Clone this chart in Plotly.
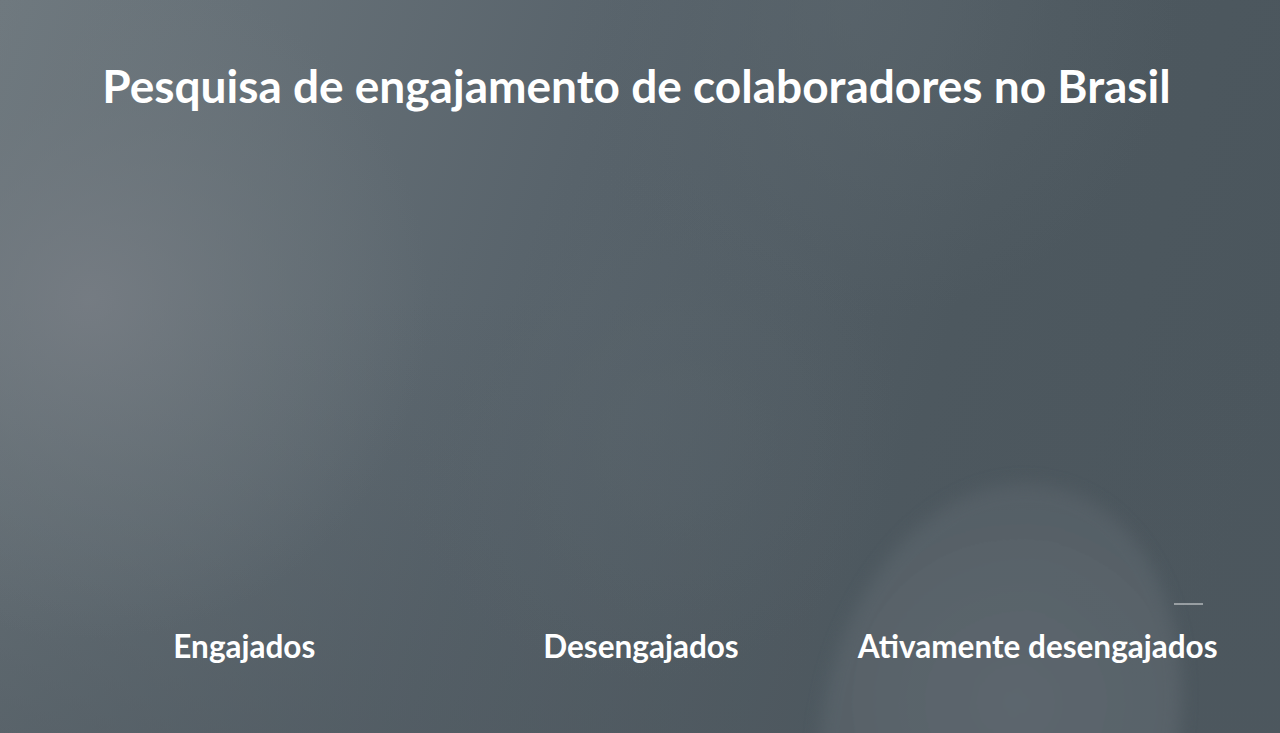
import base64
import plotly.graph_objects as go

W, H = 1280, 733

title_text = "Pesquisa de engajamento de colaboradores no Brasil"
categories = ["Engajados", "Desengajados", "Ativamente desengajados"]
values = [0, 0, 0]  # bars shown at zero height in the reference frame

svg = f"""<svg xmlns='http://www.w3.org/2000/svg' width='{W}' height='{H}' viewBox='0 0 {W} {H}'>
<defs>
<linearGradient id='base' gradientUnits='userSpaceOnUse' x1='0' y1='0' x2='1280' y2='400'>
<stop offset='0' stop-color='#6f797f'/>
<stop offset='0.45' stop-color='#58636b'/>
<stop offset='0.75' stop-color='#4d585f'/>
<stop offset='1' stop-color='#4b565d'/>
</linearGradient>
<linearGradient id='bot' gradientUnits='userSpaceOnUse' x1='0' y1='300' x2='0' y2='733'>
<stop offset='0' stop-color='#4e585f' stop-opacity='0'/>
<stop offset='1' stop-color='#4e585f' stop-opacity='0.55'/>
</linearGradient>
<radialGradient id='r1' gradientUnits='userSpaceOnUse' cx='90' cy='300' r='340'>
<stop offset='0' stop-color='#777d84' stop-opacity='0.85'/>
<stop offset='0.6' stop-color='#6e777d' stop-opacity='0.4'/>
<stop offset='1' stop-color='#6e777d' stop-opacity='0'/>
</radialGradient>
<radialGradient id='r3' gradientUnits='userSpaceOnUse' cx='860' cy='0' r='320'>
<stop offset='0' stop-color='#5b666d' stop-opacity='0.6'/>
<stop offset='1' stop-color='#5b666d' stop-opacity='0'/>
</radialGradient>
<radialGradient id='r4' gradientUnits='userSpaceOnUse' cx='640' cy='420' r='260'>
<stop offset='0' stop-color='#5a656c' stop-opacity='0.5'/>
<stop offset='1' stop-color='#5a656c' stop-opacity='0'/>
</radialGradient>
<radialGradient id='blob' gradientUnits='userSpaceOnUse' cx='1010' cy='700' r='260'>
<stop offset='0' stop-color='#616a72'/>
<stop offset='0.6' stop-color='#5b656c'/>
<stop offset='1' stop-color='#545e65'/>
</radialGradient>
<filter id='blur' x='-20%' y='-20%' width='140%' height='140%'>
<feGaussianBlur stdDeviation='8'/>
</filter>
</defs>
<rect width='{W}' height='{H}' fill='url(#base)'/>
<rect width='{W}' height='{H}' fill='url(#bot)'/>
<rect width='{W}' height='{H}' fill='url(#r4)'/>
<rect width='{W}' height='{H}' fill='url(#r1)'/>
<rect width='{W}' height='{H}' fill='url(#r3)'/>
<ellipse cx='1000' cy='730' rx='178' ry='250' transform='rotate(12 1000 730)' fill='url(#blob)' filter='url(#blur)' opacity='0.8'/>
</svg>"""
bg_src = "data:image/svg+xml;base64," + base64.b64encode(svg.encode()).decode()

fig = go.Figure()
fig.add_trace(go.Bar(
    x=categories,
    y=values,
    marker=dict(color="rgba(255,255,255,0.85)", line=dict(width=0)),
    width=0.5,
    hoverinfo="x+y",
    showlegend=False,
))

x0, x1 = 46 / W, 1236 / W
y_bottom, y_top = 610, 150

fig.update_layout(
    width=W,
    height=H,
    margin=dict(l=0, r=0, t=0, b=0),
    paper_bgcolor="#535e65",
    plot_bgcolor="rgba(0,0,0,0)",
    title=dict(
        text=title_text,
        x=636.5 / W,
        xanchor="center",
        xref="container",
        y=1 - 87 / H,
        yanchor="middle",
        yref="container",
        font=dict(family="Lato", size=46, color="white", weight=700),
    ),
    xaxis=dict(
        domain=[x0, x1],
        type="category",
        showgrid=False,
        zeroline=False,
        showline=False,
        ticks="",
        ticklabelstandoff=15,
        tickfont=dict(family="Lato", size=31.5, color="white", weight=700),
        automargin=False,
        fixedrange=True,
    ),
    yaxis=dict(
        domain=[1 - y_bottom / H, 1 - y_top / H],
        range=[0, 100],
        visible=False,
        fixedrange=True,
    ),
    images=[dict(
        source=bg_src,
        xref="paper", yref="paper",
        x=0, y=1, sizex=1, sizey=1,
        xanchor="left", yanchor="top",
        sizing="stretch",
        layer="below",
    )],
    shapes=[dict(
        type="line", xref="paper", yref="paper",
        x0=1174 / W, x1=1203 / W, y0=1 - 604 / H, y1=1 - 604 / H,
        line=dict(color="rgba(255,255,255,0.85)", width=1),
    )],
)

fig.write_html(
    "out.html",
    config={"displayModeBar": False},
    post_script="document.body.style.margin='0';document.body.style.overflow='hidden';",
)
